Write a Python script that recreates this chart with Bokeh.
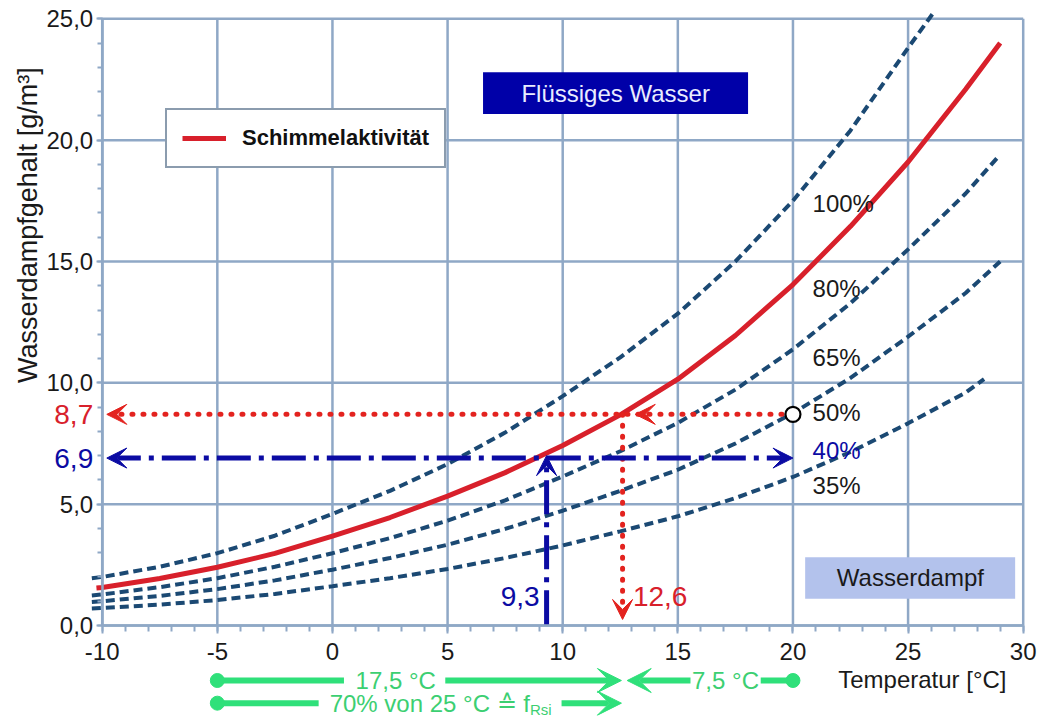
from bokeh.plotting import figure
from bokeh.models import (Range1d, FixedTicker, Label, BoxAnnotation, Arrow, VeeHead,
                          Legend, LegendItem)
from bokeh.embed import file_html
from bokeh.resources import INLINE
import math

# ---------------- data ----------------
X_TICKS = [-10, -5, 0, 5, 10, 15, 20, 25, 30]
X_TICK_LABELS = ["-10", "-5", "0", "5", "10", "15", "20", "25", "30"]
Y_TICKS = [0, 5, 10, 15, 20, 25]
Y_TICK_LABELS = ["0,0", "5,0", "10,0", "15,0", "20,0", "25,0"]

temps = [-10, -7.5, -5, -2.5, 0, 2.5, 5, 7.5, 10, 12.5, 15, 17.5, 20, 22.5, 25]

t_100 = [-10.45] + temps + [26.1]
rh_100 = [1.95, 2.0, 2.42, 2.98, 3.7, 4.6, 5.55, 6.65, 7.95, 9.45, 11.05, 12.85, 15.0, 17.5, 20.4,
          23.8, 25.25]

t_80 = [-10.25] + temps + [27.5, 29.0]
rh_80 = [1.55, 1.57, 1.94, 2.4, 2.97, 3.68, 4.45, 5.33, 6.3, 7.42, 8.68, 10.15, 11.95, 14.05, 16.45,
         19.1, 22.1, 24.0]

t_65 = [-10.45] + temps + [27.5, 28.9]
rh_65 = [1.24, 1.28, 1.58, 1.95, 2.42, 2.98, 3.6, 4.32, 5.16, 6.14, 7.18, 8.35, 9.72, 11.38, 13.28,
         15.5, 17.8, 19.3]

t_50 = [-10.45] + temps + [27.5, 29.0]
rh_50 = [0.97, 1.0, 1.22, 1.5, 1.86, 2.3, 2.78, 3.33, 3.98, 4.73, 5.55, 6.42, 7.5, 8.75, 10.2, 11.9,
         13.7, 15.0]

t_35 = [-10.45] + temps + [27.5, 28.3]
rh_35 = [0.7, 0.72, 0.86, 1.05, 1.3, 1.62, 1.95, 2.33, 2.78, 3.3, 3.88, 4.5, 5.25, 6.12, 7.15, 8.33,
         9.6, 10.15]

curve_labels = ["100%", "80%", "65%", "50%", "40%", "35%"]

T_ROOM = 20.0          # room temperature
HUM_50 = 8.7           # water vapour content at 20 °C / 50 %
T_MOULD = 12.6         # temperature where 8,7 g/m3 reach the mould limit
HUM_40 = 6.9           # water vapour content at 20 °C / 40 %
T_MOULD_40 = 9.3
T_OUT = -5.0           # outside temperature
DT_1 = "17,5 °C"
DT_2 = "7,5 °C"

# ---------------- styles ----------------
GRID = "#8fa8c6"
DASH = "#1b4973"
RED = "#d8202b"
RED_DOT = "#e3231f"
BLUE = "#0b0ba3"
GREEN = "#2fe07a"
GREEN_TXT = "#3ccf72"
FONT = "Liberation Sans"

XMIN, XMAX = X_TICKS[0], X_TICKS[-1]
YMIN, YMAX = Y_TICKS[0], Y_TICKS[-1]

# the frame covers the whole canvas; axes are drawn at fixed data locations
p = figure(width=1040, height=719, x_range=Range1d(-14.417, 30.751), y_range=Range1d(-3.873, 25.754),
           output_backend="svg", toolbar_location=None, title=None, min_border=0)
p.outline_line_color = None
p.grid.visible = False
p.background_fill_color = "white"
p.border_fill_color = "white"

# grid within the 0..25 / -10..30 band
p.segment(x0=X_TICKS, y0=[YMIN] * len(X_TICKS), x1=X_TICKS, y1=[YMAX] * len(X_TICKS),
          line_color=GRID, line_width=2.5)
p.segment(x0=[XMIN] * len(Y_TICKS), y0=Y_TICKS, x1=[XMAX] * len(Y_TICKS), y1=Y_TICKS,
          line_color=GRID, line_width=2.5)

# axes
xa = p.xaxis[0]
xa.fixed_location = YMIN
xa.bounds = (XMIN, XMAX)
xa.ticker = FixedTicker(ticks=X_TICKS, minor_ticks=list(range(XMIN, XMAX + 1)))
xa.major_label_overrides = {t: s for t, s in zip(X_TICKS, X_TICK_LABELS)}
ya = p.yaxis[0]
ya.fixed_location = XMIN
ya.bounds = (YMIN, YMAX)
ya.ticker = FixedTicker(ticks=Y_TICKS, minor_ticks=list(range(YMIN, YMAX + 1)))
ya.major_label_overrides = {t: s for t, s in zip(Y_TICKS, Y_TICK_LABELS)}
for ax in (xa, ya):
    ax.axis_line_color = GRID
    ax.axis_line_width = 2.5
    ax.major_tick_line_color = GRID
    ax.minor_tick_line_color = GRID
    ax.major_tick_line_width = 2
    ax.minor_tick_line_width = 2
    ax.major_tick_in = 0
    ax.minor_tick_in = 0
    ax.major_label_text_font = FONT
    ax.major_label_text_font_size = "24px"
    ax.major_label_text_color = "#1a1a1a"
xa.major_tick_out = 8
xa.minor_tick_out = 6
xa.major_label_standoff = 9
ya.major_tick_out = 6
ya.minor_tick_out = 5
ya.major_label_standoff = 3

# relative humidity curves
for tx, hy in ((t_100, rh_100), (t_65, rh_65), (t_50, rh_50), (t_35, rh_35)):
    p.line(tx, hy, line_color=DASH, line_width=4, line_dash="9 5")
red = p.line(t_80, rh_80, line_color=RED, line_width=5)

# red dotted path: 20 °C / 50 % -> mould limit -> axes
vee_r = dict(size=20, fill_color=RED_DOT, line_color=RED_DOT)
p.add_layout(Arrow(x_start=T_ROOM, y_start=HUM_50, x_end=XMIN + 0.2, y_end=HUM_50,
                   line_color=RED_DOT, line_width=5, line_dash="1 10", line_cap="round",
                   start=None, end=VeeHead(**vee_r)))
p.add_layout(Arrow(x_start=T_MOULD + 1.6, y_start=HUM_50, x_end=T_MOULD + 0.55, y_end=HUM_50,
                   line_alpha=0, start=None, end=VeeHead(**vee_r)))
p.add_layout(Arrow(x_start=T_MOULD, y_start=HUM_50, x_end=T_MOULD, y_end=0.25,
                   line_color=RED_DOT, line_width=5, line_dash="1 10", line_cap="round",
                   start=None, end=VeeHead(**vee_r)))

# blue dash-dot path (40 %)
vee_b = dict(size=20, fill_color=BLUE, line_color=BLUE)
p.add_layout(Arrow(x_start=XMIN + 0.2, y_start=HUM_40, x_end=T_ROOM, y_end=HUM_40,
                   line_color=BLUE, line_width=5, line_dash="34 8 5 8",
                   start=VeeHead(**vee_b), end=VeeHead(**vee_b)))
p.add_layout(Arrow(x_start=T_MOULD_40, y_start=0.05, x_end=T_MOULD_40, y_end=HUM_40 + 0.1,
                   line_color=BLUE, line_width=5, line_dash="34 8 5 8",
                   start=None, end=VeeHead(**vee_b)))

p.scatter([T_ROOM], [HUM_50], marker="circle", size=15, fill_color="white",
          line_color="black", line_width=2.2, level="overlay")

# region boxes
p.add_layout(BoxAnnotation(left=6.54, right=18.05, bottom=21.08, top=22.8,
                           fill_color="#0000a8", fill_alpha=1, line_color=None))
p.add_layout(BoxAnnotation(left=20.53, right=29.65, bottom=1.10, top=2.81,
                           fill_color="#b3c2ec", fill_alpha=1, line_color=None))


def lab(x, y, text, color="#1a1a1a", size="24px", align="left", baseline="middle", **kw):
    p.add_layout(Label(x=x, y=y, text=text, text_color=color, text_font=FONT,
                       text_font_size=size, text_align=align, text_baseline=baseline, **kw))


lab(12.3, 21.94, "Flüssiges Wasser", color="#e8ecff", align="center")
lab(25.1, 1.96, "Wasserdampf", align="center")

# curve labels
label_y = [17.37, 13.87, 11.05, 8.79, 7.21, 5.77]
for txt, yy in zip(curve_labels, label_y):
    lab(20.85, yy, txt, color=BLUE if txt == "40%" else "#1a1a1a")

# values at the axes
lab(XMIN, HUM_50, "8,7", color=RED, size="28px", align="right", x_offset=-9)
lab(XMIN, HUM_40, "6,9", color=BLUE, size="28px", align="right", x_offset=-9)
lab(T_MOULD_40 - 0.3, 1.2, "9,3", color=BLUE, size="28px", align="right")
lab(T_MOULD + 0.45, 1.2, "12,6", color=RED, size="28px", align="left")

# axis titles
lab(-13.244, 16.5, "Wasserdampfgehalt [g/m³]", size="27px", align="center", angle=math.pi / 2)
lab(25.62, -2.225, "Temperatur [°C]", align="center")

# green temperature-difference annotation
ROW1, ROW2 = -2.266, -3.2
vee_g = dict(size=24, fill_color=GREEN, line_color=GREEN)
p.segment(x0=[T_OUT, T_ROOM, T_OUT], y0=[ROW1, ROW1, ROW2],
          x1=[0.5, 18.6, -0.6], y1=[ROW1, ROW1, ROW2], line_color=GREEN, line_width=6)
p.add_layout(Arrow(x_start=4.9, y_start=ROW1, x_end=T_MOULD - 0.05, y_end=ROW1,
                   line_color=GREEN, line_width=6, start=None, end=VeeHead(**vee_g)))
p.add_layout(Arrow(x_start=15.55, y_start=ROW1, x_end=T_MOULD + 0.2, y_end=ROW1,
                   line_color=GREEN, line_width=6, start=None, end=VeeHead(**vee_g)))
p.add_layout(Arrow(x_start=9.95, y_start=ROW2, x_end=T_MOULD - 0.05, y_end=ROW2,
                   line_color=GREEN, line_width=6, start=None, end=VeeHead(**vee_g)))
p.scatter([T_OUT, T_OUT, T_ROOM], [ROW1, ROW2, ROW1], marker="circle", size=14,
          color=GREEN, level="overlay")
lab(2.75, ROW1, DT_1, color=GREEN_TXT, align="center")
lab(17.07, ROW1, DT_2, color=GREEN_TXT, align="center")
lab(8.58, ROW2, "70% von 25 °C ≙ f", color=GREEN_TXT, align="right")
lab(8.58, ROW2, "Rsi", color=GREEN_TXT, size="15px", align="left", y_offset=-6)

# legend
legend = Legend(items=[LegendItem(label="Schimmelaktivität", renderers=[red])],
                location=(165, 551), border_line_color="#173a5e", border_line_width=2.5,
                background_fill_color="white", background_fill_alpha=1,
                label_text_font=FONT, label_text_font_size="22px", label_text_font_style="bold",
                label_text_color="#111111", glyph_width=44, glyph_height=20,
                label_standoff=16, label_height=20, padding=15, margin=0, spacing=0)
p.add_layout(legend)

open("out.html", "w").write(file_html(p, INLINE))
